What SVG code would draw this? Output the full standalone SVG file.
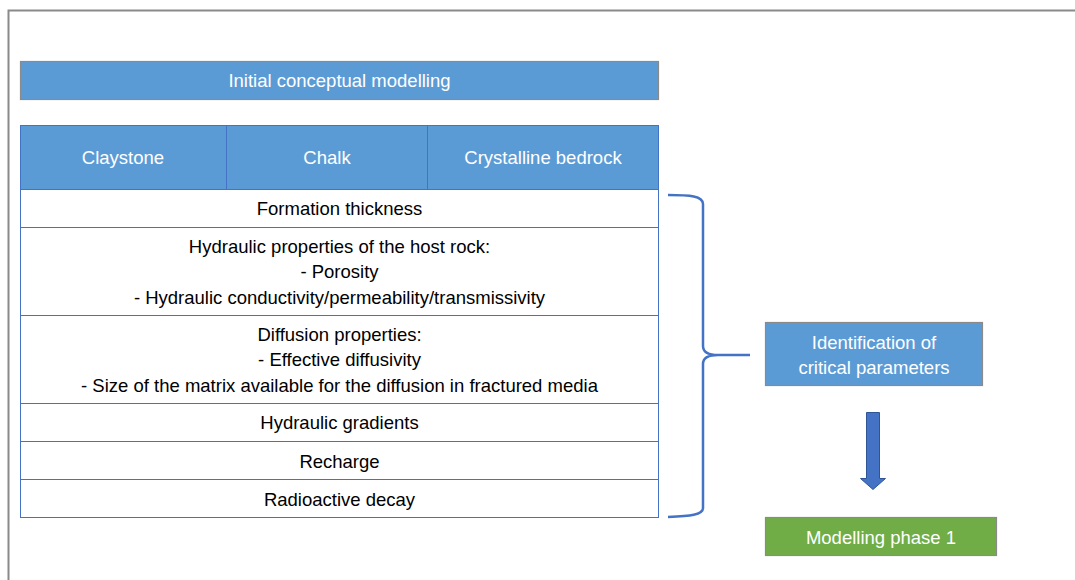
<svg xmlns="http://www.w3.org/2000/svg" width="1075" height="580" viewBox="0 0 1075 580">
<style>
.t{font-family:"Liberation Sans",Arial,sans-serif;font-size:18.5px;text-anchor:middle}
.w{fill:#ffffff}
.k{fill:#000000}
.hdr{fill:#5B9BD5;stroke:#4472C4;stroke-width:1}
.cell{fill:#ffffff;stroke:#4472C4;stroke-width:1}
.box{fill:#5B9BD5;stroke:#8A8A8A;stroke-width:1.2}
.green{fill:#70AD47;stroke:#8A8A8A;stroke-width:1.2}
</style>
<rect x="0" y="0" width="1075" height="580" fill="#ffffff"/>
<path d="M8.5 580 V10.5 H1075" fill="none" stroke="#8A8A8A" stroke-width="2"/>
<g id="title">
<rect class="box" x="20.5" y="61.5" width="638" height="38"/>
<text class="t w" x="339.5" y="87">Initial conceptual modelling</text>
</g>
<g id="table">
<rect class="hdr" x="20.5" y="125.5" width="638" height="64"/>
<line x1="226.5" y1="125.5" x2="226.5" y2="189.5" stroke="#4472C4"/>
<line x1="427.5" y1="125.5" x2="427.5" y2="189.5" stroke="#4472C4"/>
<text class="t w" x="123" y="164">Claystone</text>
<text class="t w" x="327" y="164">Chalk</text>
<text class="t w" x="543" y="164">Crystalline bedrock</text>
<rect class="cell" x="20.5" y="189.5" width="638" height="38"/>
<text class="t k" x="339.5" y="215">Formation thickness</text>
<rect class="cell" x="20.5" y="227.5" width="638" height="88"/>
<text class="t k" x="339.5" y="253">Hydraulic properties of the host rock:</text>
<text class="t k" x="339.5" y="278">- Porosity</text>
<text class="t k" x="339.5" y="304">- Hydraulic conductivity/permeability/transmissivity</text>
<rect class="cell" x="20.5" y="315.5" width="638" height="88"/>
<text class="t k" x="339.5" y="341">Diffusion properties:</text>
<text class="t k" x="339.5" y="366">- Effective diffusivity</text>
<text class="t k" x="339.5" y="392">- Size of the matrix available for the diffusion in fractured media</text>
<rect class="cell" x="20.5" y="403.5" width="638" height="38"/>
<text class="t k" x="339.5" y="429">Hydraulic gradients</text>
<rect class="cell" x="20.5" y="441.5" width="638" height="38"/>
<text class="t k" x="339.5" y="468">Recharge</text>
<rect class="cell" x="20.5" y="479.5" width="638" height="38"/>
<text class="t k" x="339.5" y="506">Radioactive decay</text>
</g>
<g id="connectors">
<path d="M668 195 C690 195 703 196 703 204 V346 Q703 355 718 355 H750 M718 355 Q703 355 703 364 V508 C703 515 690 516 668 517" fill="none" stroke="#4472C4" stroke-width="2.5"/>
<path d="M866.5 412.5 H879.5 V478.5 H885.5 L873 489.5 L860.5 478.5 H866.5 Z" fill="#4472C4" stroke="#2F5597" stroke-width="1"/>
</g>
<g id="identification">
<rect class="box" x="765.5" y="322.5" width="217" height="63"/>
<text class="t w" x="874" y="349">Identification of</text>
<text class="t w" x="874" y="374">critical parameters</text>
</g>
<g id="phase1">
<rect class="green" x="765.5" y="517.5" width="231" height="38"/>
<text class="t w" x="881" y="544">Modelling phase 1</text>
</g>
</svg>
